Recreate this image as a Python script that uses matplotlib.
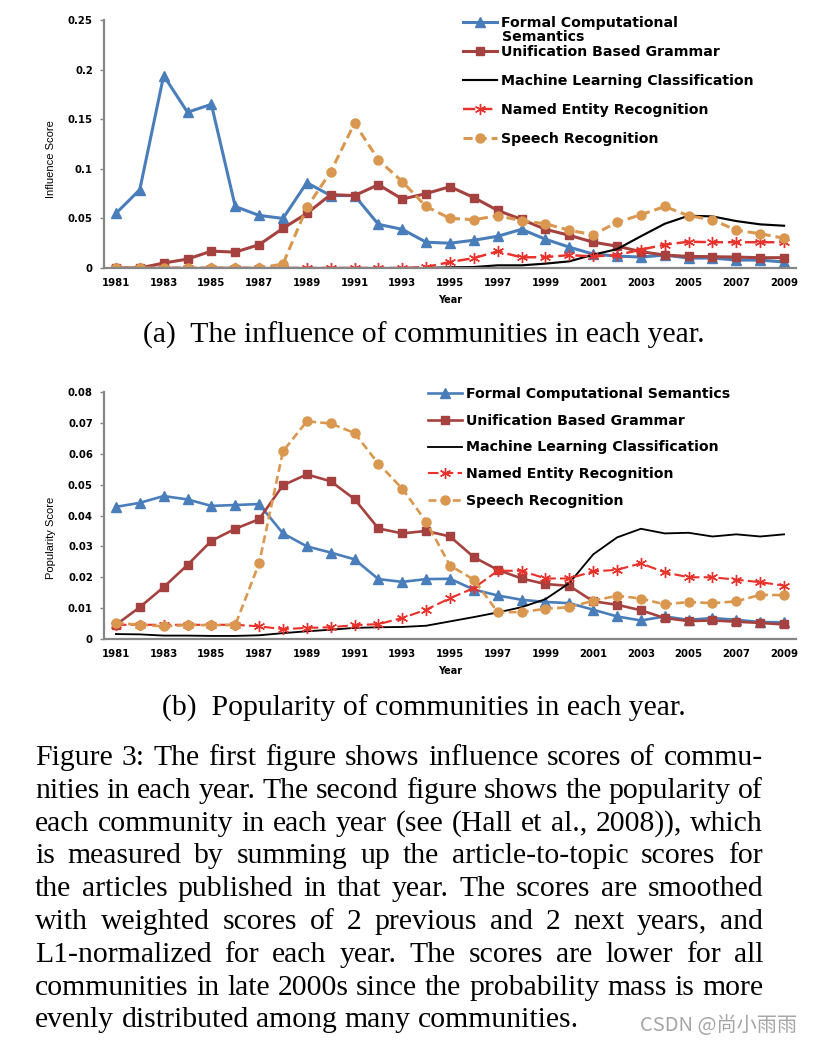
import matplotlib
matplotlib.use("Agg")
import matplotlib.pyplot as plt

years = list(range(1981, 2010))
xtick_years = list(range(1981, 2010, 2))

series_names = ["Formal Computational Semantics", "Unification Based Grammar",
                "Machine Learning Classification", "Named Entity Recognition",
                "Speech Recognition"]

# (a) influence scores
inf_fcs = [0.055, 0.079, 0.194, 0.157, 0.165, 0.062, 0.053, 0.050, 0.086, 0.073,
           0.073, 0.044, 0.039, 0.026, 0.025, 0.028, 0.032, 0.039, 0.029, 0.021,
           0.014, 0.012, 0.011, 0.013, 0.010, 0.010, 0.008, 0.008, 0.006]
inf_ubg = [0.0, 0.0, 0.005, 0.009, 0.017, 0.016, 0.0235, 0.040, 0.055, 0.074,
           0.073, 0.084, 0.0695, 0.075, 0.082, 0.071, 0.058, 0.049, 0.039, 0.033,
           0.026, 0.022, 0.0165, 0.013, 0.0117, 0.0114, 0.011, 0.0104, 0.0104]
inf_mlc = [0.0, 0.0, 0.0, 0.0, 0.0, 0.0, 0.0, 0.0, 0.0, 0.0,
           0.0, 0.0, 0.0, 0.0, 0.0007, 0.001, 0.0027, 0.0027, 0.0044, 0.0067,
           0.0134, 0.019, 0.032, 0.0446, 0.0527, 0.052, 0.0473, 0.044, 0.0426]
inf_ner = [0.0, 0.0, 0.0, 0.0, 0.0, 0.0, 0.0, 0.0, 0.0, 0.0,
           0.0, 0.0, 0.0, 0.001, 0.006, 0.010, 0.0168, 0.0107, 0.011, 0.013,
           0.0117, 0.013, 0.0185, 0.0235, 0.0265, 0.026, 0.026, 0.026, 0.026]
inf_sr = [0.0, 0.0, 0.0, 0.0, 0.0, 0.0, 0.0, 0.004, 0.061, 0.097,
          0.146, 0.109, 0.087, 0.062, 0.050, 0.0487, 0.0527, 0.0477, 0.0446, 0.038,
          0.0336, 0.046, 0.0537, 0.062, 0.0527, 0.0487, 0.038, 0.0346, 0.030]

# (b) popularity scores
pop_fcs = [0.0428, 0.0441, 0.0463, 0.0452, 0.0431, 0.0434, 0.0437, 0.0342, 0.030, 0.028,
           0.0258, 0.0194, 0.0185, 0.0194, 0.0195, 0.016, 0.0141, 0.0127, 0.012, 0.0116,
           0.0095, 0.0073, 0.006, 0.0073, 0.0062, 0.0068, 0.0062, 0.0055, 0.0054]
pop_ubg = [0.0046, 0.0103, 0.0168, 0.024, 0.0318, 0.0357, 0.0388, 0.0498, 0.0533, 0.0511,
           0.0453, 0.0358, 0.0342, 0.035, 0.0332, 0.0265, 0.0224, 0.0196, 0.0178, 0.0172,
           0.0122, 0.0111, 0.0093, 0.0068, 0.0058, 0.006, 0.0056, 0.0052, 0.0047]
pop_mlc = [0.0016, 0.0015, 0.0011, 0.0011, 0.001, 0.001, 0.0012, 0.0019, 0.0025, 0.003,
           0.0036, 0.0038, 0.0039, 0.0043, 0.0057, 0.0071, 0.0086, 0.0103, 0.0129, 0.0181,
           0.0274, 0.0329, 0.0357, 0.0342, 0.0344, 0.0332, 0.0339, 0.0332, 0.0339]
pop_ner = [0.0046, 0.0046, 0.0046, 0.0046, 0.0046, 0.0046, 0.0041, 0.0032, 0.0036, 0.0038,
           0.0045, 0.0048, 0.0068, 0.0095, 0.0132, 0.0165, 0.0221, 0.0221, 0.0196, 0.0196,
           0.0219, 0.0224, 0.0245, 0.0216, 0.020, 0.020, 0.0192, 0.0184, 0.0173]
pop_sr = [0.0052, 0.0046, 0.0041, 0.0045, 0.0045, 0.0045, 0.0245, 0.0608, 0.0705, 0.0698,
          0.0667, 0.0568, 0.0487, 0.038, 0.0238, 0.0192, 0.0087, 0.0087, 0.0098, 0.0103,
          0.0124, 0.014, 0.0131, 0.0112, 0.012, 0.0116, 0.0122, 0.0143, 0.0142]

caption_a = "(a)  The influence of communities in each year."
caption_b = "(b)  Popularity of communities in each year."
paragraph = [
    "Figure 3: The first figure shows influence scores of commu-",
    "nities in each year. The second figure shows the popularity of",
    "each community in each year (see (Hall et al., 2008)), which",
    "is measured by summing up the article-to-topic scores for",
    "the articles published in that year. The scores are smoothed",
    "with weighted scores of 2 previous and 2 next years, and",
    "L1-normalized for each year. The scores are lower for all",
    "communities in late 2000s since the probability mass is more",
    "evenly distributed among many communities.",
]
watermark = "CSDN @尚小雨雨"

W, H = 814, 1046
fig = plt.figure(figsize=(W / 100, H / 100), dpi=100)
serif = ["Liberation Serif", "DejaVu Serif"]
narrow = ["Liberation Sans Narrow", "Liberation Sans", "DejaVu Sans"]

blue, brown, red, orange = "#4A7EBB", "#A5423F", "#E8322B", "#D99750"
tick_fs = 7.3
leg_fs = 10.2


def styles(lw):
    return [
        dict(color=blue, lw=lw, marker="^", ms=7, mec=blue),
        dict(color=brown, lw=lw, marker="s", ms=6, mec=brown),
        dict(color="black", lw=lw * 0.7),
        dict(color=red, lw=lw * 0.8, ls=(0, (5, 2)), marker=(6, 2, 0), ms=8, mew=1.0),
        dict(color=orange, lw=lw, ls=(0, (3, 1.6)), marker="o", ms=6.5, mec=orange),
    ]


def draw_panel(rect, data, ymax, ystep, ylabel, ylab_y):
    ax = fig.add_axes(rect)
    lw = 2.2 if ymax > 0.1 else 1.9
    handles = []
    for vals, name, st in zip(data, series_names, styles(lw)):
        h, = ax.plot(years, vals, label=name, **st)
        handles.append(h)
    ax.set_xlim(1980.5, 2009.5)
    ax.set_ylim(0, ymax)
    ax.set_xticks(xtick_years)
    ax.set_xticklabels([str(y) for y in xtick_years], fontweight="bold", fontsize=tick_fs)
    yt = [round(i * ystep, 3) for i in range(int(round(ymax / ystep)) + 1)]
    ax.set_yticks(yt)
    ax.set_yticklabels(["0" if v == 0 else f"{v:g}" for v in yt], fontweight="bold", fontsize=tick_fs)
    ax.tick_params(axis="x", length=0, pad=7)
    ax.tick_params(axis="y", length=3, width=1, color="#868686", pad=5)
    for s in ["top", "right"]:
        ax.spines[s].set_visible(False)
    for s in ["left", "bottom"]:
        ax.spines[s].set_color("#868686")
        ax.spines[s].set_linewidth(1.6)
    ax.set_ylabel(ylabel, family=narrow, fontsize=8)
    ax.yaxis.set_label_coords(-0.069, ylab_y)
    ax.set_xlabel("Year", fontweight="bold", fontsize=7)
    ax.xaxis.set_label_coords(0.5, -0.109)
    return ax, handles


ax1, h1 = draw_panel([104 / W, 1 - 268 / H, 692 / W, 248 / H],
                     [inf_fcs, inf_ubg, inf_mlc, inf_ner, inf_sr], 0.25, 0.05,
                     "Influence Score", 0.44)
# the first legend label wraps onto a second line in the original
labels1 = ["Formal Computational"] + series_names[1:]
ax1.legend(h1, labels1, loc="upper left", bbox_to_anchor=(463 / W, 1 - 16 / H),
           bbox_transform=fig.transFigure, frameon=False, borderpad=0, borderaxespad=0,
           handlelength=2.4, handletextpad=0.3, labelspacing=1.06,
           prop=dict(weight="bold", size=leg_fs))
fig.text(502 / W, 1 - 37 / H, "Semantics", fontweight="bold", fontsize=leg_fs, va="center")

ax2, h2 = draw_panel([104 / W, 1 - 639 / H, 692 / W, 247 / H],
                     [pop_fcs, pop_ubg, pop_mlc, pop_ner, pop_sr], 0.08, 0.01,
                     "Popularity Score", 0.41)
ax2.legend(h2, series_names, loc="upper left", bbox_to_anchor=(428 / W, 1 - 387 / H),
           bbox_transform=fig.transFigure, frameon=False, borderpad=0, borderaxespad=0,
           handlelength=2.4, handletextpad=0.3, labelspacing=0.9,
           prop=dict(weight="bold", size=leg_fs))

fs = 21.4
fig.text(424 / W, 1 - 343 / H, caption_a, family=serif, fontsize=fs, ha="center", va="baseline")
fig.text(424 / W, 1 - 716 / H, caption_b, family=serif, fontsize=fs, ha="center", va="baseline")

# justified caption paragraph
r = fig.canvas.get_renderer()
x0, x1 = 35, 763
for i, line in enumerate(paragraph):
    yb = 765 + i * 32.8
    words = line.split(" ")
    texts = [fig.text(0, 1 - yb / H, w, family=serif, fontsize=fs, va="baseline") for w in words]
    widths = [t.get_window_extent(r).width for t in texts]
    last = i == len(paragraph) - 1
    gap = fs * 100 / 72 * 0.25 if last else (x1 - x0 - sum(widths)) / (len(words) - 1)
    x = x0
    for t, w in zip(texts, widths):
        t.set_x(x / W)
        x += w + gap

fig.text(797 / W, 1 - 1031 / H, watermark, family=["Noto Sans CJK SC", "DejaVu Sans"],
         fontsize=14.5, color="#A6A6A6", ha="right", va="baseline")

fig.savefig("out.png", dpi=100)
